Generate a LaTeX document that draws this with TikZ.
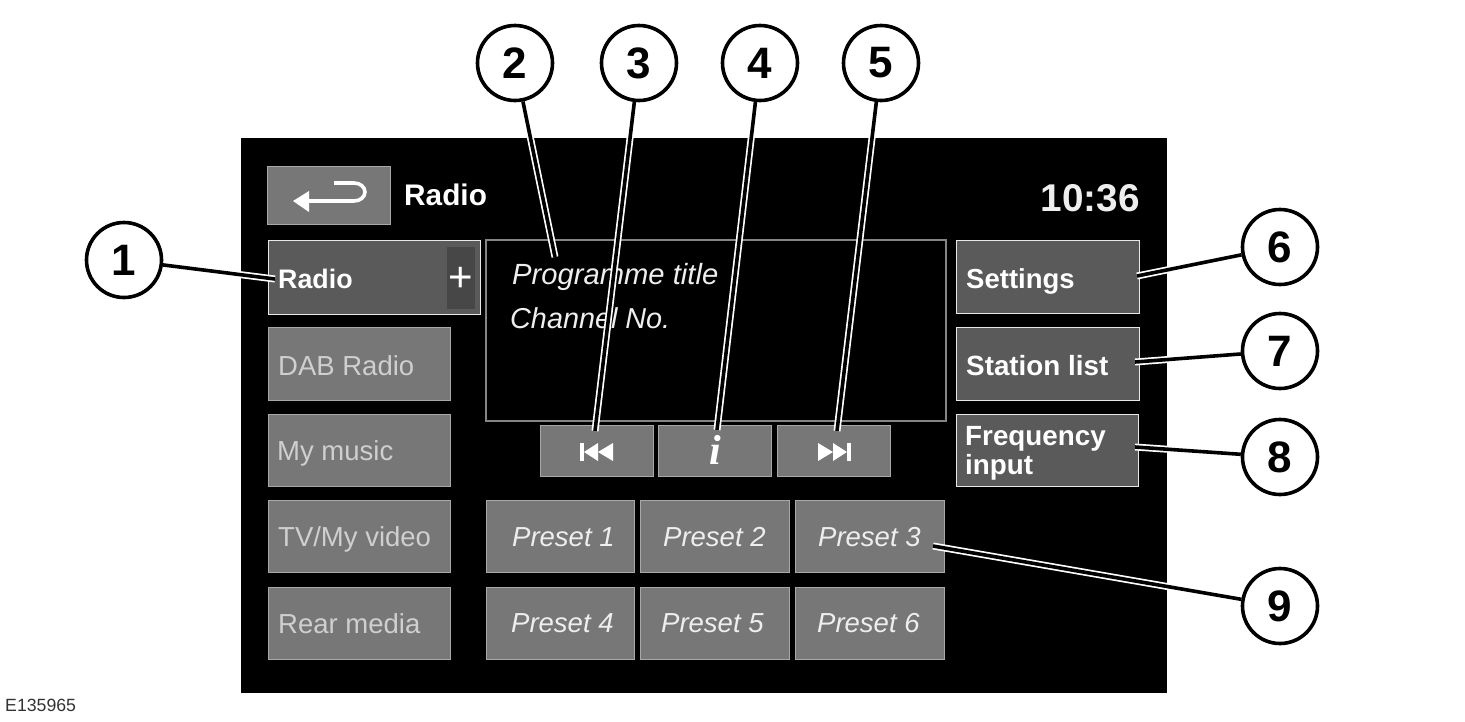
\documentclass[tikz,border=0pt]{standalone}
\usepackage{fontspec}
\setmainfont{Liberation Sans}
\newfontfamily\serifi{Liberation Serif}
\definecolor{btn}{HTML}{777777}
\definecolor{btndark}{HTML}{5A5A5A}
\definecolor{edgegray}{HTML}{A8A8A8}
\definecolor{edgelight}{HTML}{E8E8E8}
\definecolor{txtdim}{HTML}{CFCFCF}
\definecolor{txtlight}{HTML}{EEEEEE}
\newcommand{\sz}[1]{\fontsize{#1}{#1}\selectfont}
\newcommand{\rbox}[6]{%
  \pgfmathsetmacro{\rw}{#5-#3}\pgfmathsetmacro{\rh}{#6-#4}%
  \pgfmathsetmacro{\rx}{(#3+#5)/2}\pgfmathsetmacro{\ry}{(#4+#6)/2}%
  \node[#2,minimum width=\rw pt,minimum height=\rh pt] (#1) at (\rx,\ry) {};}
\pgfdeclarelayer{under}
\pgfdeclarelayer{mid}
\pgfsetlayers{under,mid,main}
\tikzset{
  x=1pt,y=-1pt,
  btnbox/.style={rectangle,inner sep=0pt,outer sep=0pt,fill=btn,draw=edgegray,line width=1.1pt},
  darkbox/.style={rectangle,inner sep=0pt,outer sep=0pt,fill=btndark,draw=edgelight,line width=1.9pt},
  infobox/.style={rectangle,inner sep=0pt,outer sep=0pt,fill=black,draw=btn!90!white,line width=1.1pt},
  plusbox/.style={rectangle,inner sep=0pt,outer sep=0pt,fill=black!72},
  dimtext/.style={anchor=base west,inner sep=0pt,text=txtdim,font=\sz{27.5}},
  boldtext/.style={anchor=base west,inner sep=0pt,text=white,font=\sz{27.5}\bfseries},
  ittext/.style={anchor=base west,inner sep=0pt,text=txtlight,font=\sz{27.5}\itshape},
  callout/.style={circle,draw=black,fill=white,line width=3.6pt,minimum size=75pt,inner sep=0pt,font=\sz{44}\bfseries},
  casing/.style={draw=white,line width=7pt},
  leader/.style={draw=black,line width=3.6pt},
  icon/.style={fill=white,draw=none}
}
\begin{document}
\begin{tikzpicture}
\useasboundingbox (0,0) rectangle (1465,721);
\begin{pgfonlayer}{under}
\fill[white] (0,0) rectangle (1465,721);
\rbox{screen}{rectangle,fill=black,inner sep=0pt,outer sep=0pt}{241}{138}{1167}{693}
\rbox{back}{btnbox}{267.5}{166.5}{390.5}{224.5}
\rbox{radiob}{darkbox}{268.5}{240.5}{480.5}{314.5}
\rbox{plus}{plusbox}{447}{247}{475}{309}
\rbox{dab}{btnbox}{268.5}{327.5}{450.5}{400.5}
\rbox{music}{btnbox}{268.5}{414.5}{450.5}{486.5}
\rbox{tv}{btnbox}{268.5}{500.5}{450.5}{572.5}
\rbox{rear}{btnbox}{268.5}{587.5}{450.5}{659.5}
\rbox{info}{infobox}{486}{240}{946}{421}
\rbox{prev}{btnbox}{540.5}{425.5}{653.5}{476.5}
\rbox{infob}{btnbox}{658.5}{425.5}{771.5}{476.5}
\rbox{next}{btnbox}{777.5}{425.5}{890.5}{476.5}
\rbox{pa}{btnbox}{486.5}{500.5}{634.5}{572.5}
\rbox{pb}{btnbox}{640.5}{500.5}{789.5}{572.5}
\rbox{pc}{btnbox}{795.5}{500.5}{944.5}{572.5}
\rbox{pd}{btnbox}{486.5}{587.5}{634.5}{659.5}
\rbox{pe}{btnbox}{640.5}{587.5}{789.5}{659.5}
\rbox{pf}{btnbox}{795.5}{587.5}{944.5}{659.5}
\rbox{settings}{darkbox}{956.5}{240.5}{1139.5}{313.5}
\rbox{station}{darkbox}{956.5}{327.5}{1139.5}{400.5}
\rbox{freq}{darkbox}{956.5}{414.5}{1138.5}{486.5}
% back arrow
\fill[icon] (293,201) -- (309,191) -- (309,212) -- cycle;
\draw[white,line width=3.6pt] (306,201) -- (354,201) arc[start angle=90,end angle=-90,x radius=11pt,y radius=-9pt] -- (334,183);
% transport icons
\fill[icon] (580,443) rectangle (584,461);
\fill[icon] (584,452) -- (598,443) -- (598,461) -- cycle;
\fill[icon] (598,452) -- (613,443) -- (613,461) -- cycle;
\fill[icon] (851,443) rectangle (847,461);
\fill[icon] (847,452) -- (833,443) -- (833,461) -- cycle;
\fill[icon] (833,452) -- (818,443) -- (818,461) -- cycle;
% texts
\node[boldtext,font=\sz{29.8}\bfseries] (t0) at (404,205) {Radio};
\node[anchor=base east,inner sep=0pt,text=txtlight,font=\sz{38.7}\bfseries] (clock) at (1140,211) {10:36};
\node[boldtext,font=\sz{26.8}\bfseries] (t1) at (278,288) {Radio};
\node[anchor=center,inner sep=0pt,text=white,font=\sz{42}] (plussign) at (461,279) {+};
\node[dimtext] (t2) at (278,375) {DAB Radio};
\node[dimtext] (t3) at (277,460) {My music};
\node[dimtext] (t4) at (278,546) {TV/My video};
\node[dimtext] (t5) at (278,633) {Rear media};
\node[ittext,font=\sz{29.2}\itshape] (t6) at (512,284) {Programme title};
\node[ittext,font=\sz{28.8}\itshape] (t7) at (510,328) {Channel No.};
\node[anchor=center,inner sep=0pt,text=white,font=\sz{42}\bfseries\itshape\serifi] (iglyph) at (715,450) {i};
\node[ittext] (t8) at (512,546) {Preset 1};
\node[ittext] (t9) at (663,546) {Preset 2};
\node[ittext] (t10) at (818,546) {Preset 3};
\node[ittext] (t11) at (511,632) {Preset 4};
\node[ittext] (t12) at (661,632) {Preset 5};
\node[ittext] (t13) at (817,632) {Preset 6};
\node[boldtext] (t14) at (966,288) {Settings};
\node[boldtext,font=\sz{27.8}\bfseries] (t15) at (966,375) {Station list};
\node[boldtext,font=\sz{27.8}\bfseries] (t16) at (965,445) {Frequency};
\node[boldtext,font=\sz{27.8}\bfseries] (t17) at (965,474) {input};
\node[anchor=base west,inner sep=0pt,text=black!80,font=\sz{17.7}] (code) at (5,711) {E135965};
\end{pgfonlayer}
% callouts
\node[callout] (c1) at (124,260) {1};
\node[callout] (c2) at (515,63) {2};
\node[callout] (c3) at (639,63) {3};
\node[callout] (c4) at (760,63) {4};
\node[callout] (c5) at (881,63) {5};
\node[callout] (c6) at (1280,247) {6};
\node[callout] (c7) at (1280,351) {7};
\node[callout] (c8) at (1280,457) {8};
\node[callout] (c9) at (1280,606) {9};
\coordinate (e1) at (275,279);
\coordinate (e2) at (555,257);
\coordinate (e3) at (595,431);
\coordinate (e4) at (717,430);
\coordinate (e5) at (837,431);
\coordinate (e6) at (1137,276);
\coordinate (e7) at (1135,362);
\coordinate (e8) at (1135,447);
\coordinate (e9) at (933,546);
\begin{pgfonlayer}{mid}
\foreach \c/\e in {c1/e1,c2/e2,c3/e3,c4/e4,c5/e5,c6/e6,c7/e7,c8/e8,c9/e9}{
  \path[casing] (\c) -- (\e);
  \path[leader] (\c) -- (\e);
}
\end{pgfonlayer}
\end{tikzpicture}
\end{document}
